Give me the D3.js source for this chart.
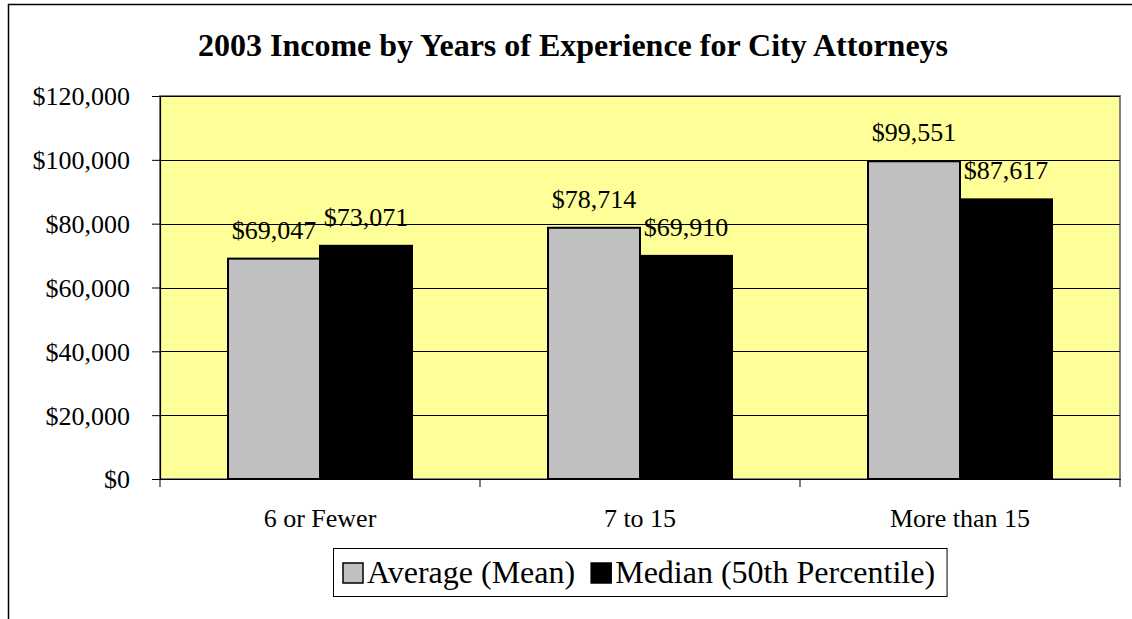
<!DOCTYPE html>
<html>
<head>
<meta charset="utf-8">
<script src="https://cdn.jsdelivr.net/npm/d3@7"></script>
<style>
	body { margin: 0; background: #fff; }
	svg text { font-family: "Liberation Serif", "Times New Roman", serif; fill: #000; }
</style>
</head>
<body>
<script>
// Chart data
const categories = ["6 or Fewer", "7 to 15", "More than 15"];
const seriesNames = ["Average (Mean)", "Median (50th Percentile)"];
const meanValues = [69047, 78714, 99551];
const medianValues = [73071, 69910, 87617];
const yTicks = [0, 20000, 40000, 60000, 80000, 100000, 120000];
const seriesColors = ["#c0c0c0", "#000000"];

const serif = "'Liberation Serif', 'Times New Roman', serif";
const width = 1132, height = 619;
const plot = { left: 160, top: 96, right: 1120, bottom: 479 };

let svg = d3.select("body")
	.append("svg")
	.attr("width", width)
	.attr("height", height);

// Outer chart border
svg.append("rect")
	.attr("x", 8.5).attr("y", 4.5)
	.attr("width", 1140).attr("height", 640)
	.attr("fill", "#fff")
	.attr("stroke", "#000")
	.attr("stroke-width", 1.5);

// Title
svg.append("text")
	.attr("x", 573).attr("y", 56)
	.attr("text-anchor", "middle")
	.style("font-family", serif)
	.style("font-size", "32px")
	.style("font-weight", "bold")
	.text("2003 Income by Years of Experience for City Attorneys");

// Scales
let x0 = d3.scaleBand().domain(categories).range([plot.left, plot.right]).padding(0);
let y = d3.scaleLinear().domain([0, 120000]).range([plot.bottom, plot.top]);
let fmt = d3.format("$,");

// Plot area background
svg.append("rect")
	.attr("x", plot.left).attr("y", plot.top)
	.attr("width", plot.right - plot.left).attr("height", plot.bottom - plot.top)
	.attr("fill", "#ffff99")
	.attr("stroke", "#808080")
	.attr("stroke-width", 2);

// Gridlines
svg.selectAll("line.grid")
	.data(yTicks.slice(1))
	.enter()
	.append("line")
	.attr("class", "grid")
	.attr("x1", plot.left).attr("x2", plot.right)
	.attr("y1", d => Math.round(y(d)) + 0.5).attr("y2", d => Math.round(y(d)) + 0.5)
	.attr("stroke", "#000")
	.attr("stroke-width", 1);

// Y axis
let yAxis = d3.axisLeft(y).tickValues(yTicks).tickFormat(fmt).tickSize(8).tickPadding(22);
let gy = svg.append("g").attr("transform", `translate(${plot.left},0)`).call(yAxis);
gy.select(".domain").attr("stroke", "#000").attr("stroke-width", 1.2);
gy.selectAll(".tick line").attr("stroke", "#000");
gy.selectAll(".tick text").style("font-size", "26px").attr("dy", "0.34em")
	.style("font-family", serif);

// Bars
let groupPad = 68;
let barW = (x0.bandwidth() - 2 * groupPad) / 2;
let barData = [];
categories.forEach((c, i) => {
	barData.push({ cat: c, s: 0, v: meanValues[i] });
	barData.push({ cat: c, s: 1, v: medianValues[i] });
});

svg.selectAll("rect.bar")
	.data(barData)
	.enter()
	.append("rect")
	.attr("class", "bar")
	.attr("x", d => x0(d.cat) + groupPad + d.s * barW)
	.attr("y", d => y(d.v))
	.attr("width", barW)
	.attr("height", d => y(0) - y(d.v))
	.attr("fill", d => seriesColors[d.s])
	.attr("stroke", "#000")
	.attr("stroke-width", 2);

// Data labels
svg.selectAll("text.lbl")
	.data(barData)
	.enter()
	.append("text")
	.attr("class", "lbl")
	.attr("x", d => x0(d.cat) + groupPad + d.s * barW + barW / 2)
	.attr("y", d => y(d.v) - 20)
	.attr("text-anchor", "middle")
	.style("font-family", serif)
	.style("font-size", "26px")
	.text(d => fmt(d.v));

// X axis
let xAxis = d3.axisBottom(x0).tickSize(0).tickPadding(0);
let gx = svg.append("g").attr("transform", `translate(0,${plot.bottom})`).call(xAxis);
gx.select(".domain").attr("stroke", "#000").attr("stroke-width", 1.2);
gx.selectAll(".tick text").attr("y", 48).attr("dy", 0).style("font-size", "26px")
	.style("font-family", serif);

// Category divider ticks
svg.selectAll("line.xtick")
	.data(d3.range(categories.length + 1))
	.enter()
	.append("line")
	.attr("class", "xtick")
	.attr("x1", i => plot.left + i * x0.step()).attr("x2", i => plot.left + i * x0.step())
	.attr("y1", plot.bottom).attr("y2", plot.bottom + 8)
	.attr("stroke", "#000");

// Legend
let legend = svg.append("g");
let legendBox = legend.append("rect")
	.attr("x", 333.5).attr("y", 548.5)
	.attr("height", 48)
	.attr("fill", "#fff")
	.attr("stroke", "#000")
	.attr("stroke-width", 1);

let lx = 343;
seriesNames.forEach((name, i) => {
	legend.append("rect")
		.attr("x", lx).attr("y", 563)
		.attr("width", 20).attr("height", 20)
		.attr("fill", seriesColors[i])
		.attr("stroke", "#000")
		.attr("stroke-width", 1.5);
	let t = legend.append("text")
		.attr("x", lx + 24).attr("y", 583)
		.style("font-family", serif)
		.style("font-size", "32px")
		.text(name);
	lx += 24 + t.node().getComputedTextLength() + 16;
});
legendBox.attr("width", lx - 16 + 12 - 333.5);
</script>
</body>
</html>
